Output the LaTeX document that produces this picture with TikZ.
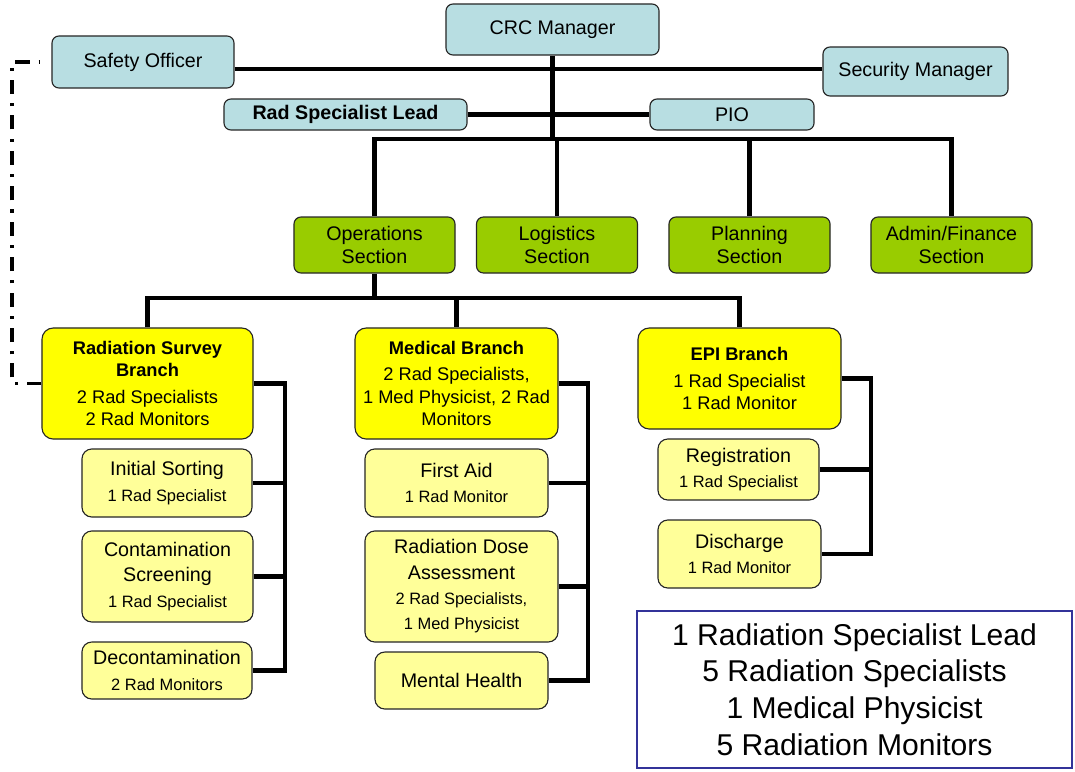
\documentclass[tikz,border=0pt]{standalone}
\usepackage{fontspec}
\setmainfont{Liberation Sans}
\usepackage{tikz}
\definecolor{topblue}{RGB}{184,222,226}
\definecolor{secgreen}{RGB}{153,204,0}
\definecolor{bryellow}{RGB}{255,255,0}
\definecolor{subyellow}{RGB}{255,255,153}
\definecolor{sumblue}{RGB}{51,51,153}
\tikzstyle{topbox}=[shape=rectangle,
                rounded corners=5pt,
                draw=black!85,
                fill=topblue,
                line width=0.8pt,
                align=center,
                font=\fontsize{14}{17}\selectfont]
\tikzstyle{secbox}=[topbox,
                fill=secgreen,
                minimum width=4.025cm,
                minimum height=1.4cm]
\tikzstyle{brbox}=[topbox,
                rounded corners=8pt,
                fill=bryellow,
                font=\fontsize{13}{16}\selectfont]
\tikzstyle{subbox}=[topbox,
                rounded corners=7pt,
                fill=subyellow,
                font=\fontsize{14}{18}\selectfont]
\tikzstyle{sumbox}=[shape=rectangle,
                draw=sumblue,
                line width=2pt,
                align=center,
                font=\fontsize{21.4}{26}\selectfont]
\tikzstyle{conn}=[line width=3pt]
\tikzstyle{safelink}=[line width=2.8pt,
                dash pattern=on 10pt off 6.5pt on 2.2pt off 6.5pt]
\newcommand{\subtxt}[1]{{\fontsize{11.7}{17}\selectfont #1}}

\begin{document}
\begin{tikzpicture}[x=0.025cm, y=-0.025cm]
\useasboundingbox (0,0) rectangle (1075,771);

% command staff
\node[topbox, minimum width=5.325cm, minimum height=1.275cm] (crc) at (552.5,29.5) {CRC Manager};
\node[topbox, minimum width=4.55cm, minimum height=1.3cm] (so) at (143,62) {Safety Officer};
\node[topbox, minimum width=4.625cm, minimum height=1.225cm] (sm) at (915.5,71.5) {Security Manager};
\node[topbox, minimum width=6.075cm, minimum height=0.775cm, font=\fontsize{14}{17}\selectfont\bfseries] (rsl) at (345.5,114.5) {Rad Specialist Lead};
\node[topbox, minimum width=4.1cm, minimum height=0.775cm] (pio) at (732,114.5) {PIO};

% sections
\node[secbox] (ops) at (374.5,245) {Operations\\Section};
\node[secbox] (log) at (557,245) {Logistics\\Section};
\node[secbox] (plan) at (749.5,245) {Planning\\Section};
\node[secbox] (adm) at (951.5,245) {Admin/Finance\\Section};

% branches
\node[brbox, minimum width=5.275cm, minimum height=2.775cm] (rs) at (147.5,383.5) {\textbf{Radiation Survey}\\\textbf{Branch}\\[3pt]2 Rad Specialists\\2 Rad Monitors};
\node[brbox, minimum width=5.075cm, minimum height=2.775cm] (med) at (456.5,383.5) {\textbf{Medical Branch}\\[3pt]2 Rad Specialists,\\1 Med Physicist, 2 Rad\\Monitors};
\node[brbox, minimum width=5.075cm, minimum height=2.525cm] (epi) at (739.5,378.5) {\textbf{EPI Branch}\\[3pt]1 Rad Specialist\\1 Rad Monitor};

% radiation survey units
\node[subbox, minimum width=4.25cm, minimum height=1.7cm] (is) at (167,483) {Initial Sorting\\\subtxt{1 Rad Specialist}};
\node[subbox, minimum width=4.275cm, minimum height=2.275cm] (cs) at (167.5,576.5) {Contamination\\Screening\\\subtxt{1 Rad Specialist}};
\node[subbox, minimum width=4.25cm, minimum height=1.425cm] (dc) at (167,670.5) {Decontamination\\\subtxt{2 Rad Monitors}};

% medical units
\node[subbox, minimum width=4.575cm, minimum height=1.7cm] (fa) at (456.5,483) {First Aid\\\subtxt{1 Rad Monitor}};
\node[subbox, minimum width=4.825cm, minimum height=2.775cm] (rda) at (461.5,586.5) {Radiation Dose\\Assessment\\\subtxt{2 Rad Specialists,}\\\subtxt{1 Med Physicist}};
\node[subbox, minimum width=4.325cm, minimum height=1.425cm] (mh) at (461.5,680.5) {Mental Health};

% epi units
\node[subbox, minimum width=4.025cm, minimum height=1.525cm] (reg) at (738.5,469.5) {Registration\\\subtxt{1 Rad Specialist}};
\node[subbox, minimum width=4.075cm, minimum height=1.7cm] (dis) at (739.5,554) {Discharge\\\subtxt{1 Rad Monitor}};

% staff totals
\node[sumbox, minimum width=10.875cm, minimum height=3.925cm] (sum) at (854.5,689.5) {1 Radiation Specialist Lead\\5 Radiation Specialists\\1 Medical Physicist\\5 Radiation Monitors};

% helper coordinates
\coordinate (soline) at (0,69);
\coordinate (secbar) at (0,139);
\coordinate (brbar) at (0,298);
\coordinate (rsbr) at (285,0);
\coordinate (medbr) at (588,0);
\coordinate (epibr) at (871,0);
\coordinate (dl) at (12,62);
\coordinate (dlend) at (40,62);

% paths
\draw[conn] (crc.south) -- (crc.south |- secbar);
\draw[conn] (so.east |- soline) -- (sm.west |- soline);
\draw[conn] (rsl.east) -- (pio.west);
\draw[conn] (ops.north) |- (adm.north |- secbar) -- (adm.north);
\draw[conn] (log.north |- secbar) -- (log.north);
\draw[conn] (plan.north |- secbar) -- (plan.north);
\draw[conn] (ops.south) -- (ops.south |- brbar);
\draw[conn] (rs.north) |- (epi.north |- brbar) -- (epi.north);
\draw[conn] (med.north |- brbar) -- (med.north);

% paths to units
\draw[conn] (rs.east) -- (rs.east -| rsbr) -- (dc.east -| rsbr) -- (dc.east);
\foreach \u in {is,cs}
  \draw[conn] (\u.east) -- (\u.east -| rsbr);
\draw[conn] (med.east) -- (med.east -| medbr) -- (mh.east -| medbr) -- (mh.east);
\foreach \u in {fa,rda}
  \draw[conn] (\u.east) -- (\u.east -| medbr);
\draw[conn] (epi.east) -- (epi.east -| epibr) -- (dis.east -| epibr) -- (dis.east);
\draw[conn] (reg.east) -- (reg.east -| epibr);

% safety link
\draw[safelink] (rs.west) -| (dl) -- (dlend);

\end{tikzpicture}
\end{document}
